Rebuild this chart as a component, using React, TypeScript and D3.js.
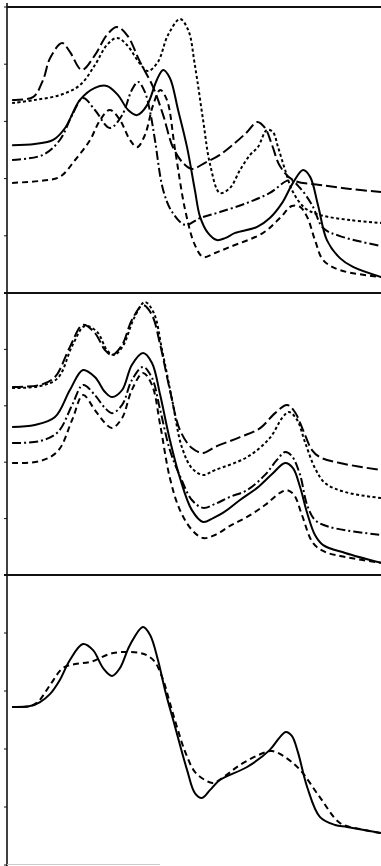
import React from 'react';
import * as d3 from 'd3';

const W = 381;
const H = 866;

// x: relative wavelength units (0..100); y: relative absorbance (0..100) within each panel
// ---------- Panel 1 ----------
const p1LongDash: [number, number][] = [
  [1.1, 67.5], [6.7, 68.5], [9.4, 74.5], [11.3, 82.2], [14.5, 87.4], [16.6, 84.3], [19.8, 78.0],
  [23.3, 83.2], [26.5, 90.2], [29.2, 93.0], [31.9, 90.2], [35.4, 80.8], [38.9, 72.0], [41.6, 62.2],
  [44.2, 51.0], [46.9, 45.5], [49.3, 43.4], [52.8, 45.5], [56.8, 48.3], [60.9, 52.5], [64.1, 56.3],
  [66.8, 59.8], [68.9, 57.7], [70.8, 51.7], [72.9, 44.4], [76.4, 39.5], [83.6, 37.8], [91.7, 36.4],
  [100, 35.3],
];
const p1Dotted: [number, number][] = [
  [1.1, 66.4], [7.2, 67.5], [13.9, 69.2], [19.3, 72.7], [23.3, 79.7], [26.5, 86.7], [29.2, 89.2],
  [31.9, 86.7], [35.4, 80.1], [37.5, 77.6], [40.2, 80.8], [42.9, 90.2], [46.1, 95.8], [48.3, 92.0],
  [50.1, 79.7], [52.3, 60.5], [54.2, 44.8], [56.8, 35.0], [59.5, 36.7], [62.2, 43.0], [64.9, 48.3],
  [67.0, 51.0], [69.4, 57.0], [71.0, 56.3], [72.4, 51.0], [74.3, 43.0], [76.4, 35.3], [79.6, 29.7],
  [83.6, 27.3], [91.7, 25.5], [100, 24.5],
];
const p1Solid: [number, number][] = [
  [1.1, 51.7], [7.2, 52.1], [12.1, 53.5], [15.3, 57.7], [19.3, 67.5], [23.3, 71.7], [26.5, 72.4],
  [29.5, 69.2], [32.2, 64.0], [34.6, 62.2], [37.3, 65.7], [39.9, 74.5], [41.6, 78.0], [43.4, 75.2],
  [45.6, 64.0], [48.0, 51.0], [50.1, 36.0], [51.5, 26.6], [53.6, 21.0], [56.0, 18.5], [58.2, 19.2],
  [60.9, 21.0], [66.8, 23.1], [70.2, 26.2], [73.5, 31.5], [76.4, 38.5], [79.1, 43.0], [81.0, 40.6],
  [83.1, 30.8], [85.5, 18.5], [89.0, 12.2], [92.5, 9.1], [100, 5.6],
];
const p1DashDot: [number, number][] = [
  [1.1, 46.5], [9.4, 48.3], [13.9, 53.5], [17.2, 62.2], [20.1, 68.2], [23.3, 64.0], [27.3, 57.7],
  [30.6, 62.2], [33.2, 71.0], [34.9, 73.8], [36.7, 70.3], [38.1, 63.3], [39.4, 53.5], [41.6, 36.0],
  [44.0, 28.3], [47.5, 23.8], [51.5, 26.2], [56.8, 28.3], [64.1, 31.5], [70.2, 35.0], [75.6, 39.5],
  [78.3, 36.7], [81.5, 30.8], [84.5, 22.7], [89.0, 19.9], [100, 16.4],
];
const p1Dashed: [number, number][] = [
  [1.1, 38.5], [8.6, 39.2], [13.9, 40.6], [18.0, 46.5], [22.0, 53.5], [24.7, 60.5], [27.3, 64.0],
  [30.0, 60.5], [32.7, 53.5], [34.6, 51.0], [36.7, 55.2], [38.9, 65.7], [40.8, 71.0], [42.6, 67.5],
  [44.8, 50.0], [47.5, 29.0], [50.1, 16.8], [52.3, 12.6], [55.5, 14.0], [59.5, 16.1], [68.4, 21.0],
  [72.9, 26.2], [76.1, 30.4], [78.3, 30.1], [80.2, 26.6], [82.3, 18.5], [84.5, 11.5], [89.0, 8.0],
  [100, 5.6],
];

// ---------- Panel 2 ----------
const p2LongDash: [number, number][] = [
  [1.1, 66.7], [8.6, 67.4], [12.6, 70.2], [16.6, 80.9], [20.1, 88.7], [23.3, 85.8], [26.0, 79.8],
  [27.9, 78.0], [30.6, 81.6], [33.2, 90.4], [36.2, 95.7], [38.6, 92.2], [40.8, 81.6], [43.4, 65.6],
  [46.1, 51.4], [49.3, 45.0], [52.3, 43.3], [55.5, 45.4], [62.2, 48.9], [67.6, 52.1], [71.6, 57.4],
  [74.8, 60.3], [76.9, 57.8], [79.1, 51.4], [81.5, 44.3], [83.6, 41.8], [89.0, 39.7], [100, 37.2],
];
const p2Dotted: [number, number][] = [
  [1.1, 66.3], [8.6, 67.0], [13.4, 69.9], [17.2, 81.2], [20.6, 88.3], [23.9, 86.2], [26.5, 79.8],
  [28.4, 78.0], [30.8, 81.2], [33.8, 91.1], [36.7, 96.8], [39.1, 92.9], [41.3, 79.8], [44.0, 62.1],
  [46.6, 45.4], [49.3, 37.9], [52.3, 35.5], [55.5, 37.2], [64.1, 41.8], [70.2, 48.6], [73.5, 55.7],
  [75.3, 57.8], [77.5, 55.0], [79.6, 47.2], [82.3, 37.9], [85.0, 32.6], [90.4, 29.4], [100, 27.3],
];
const p2Solid: [number, number][] = [
  [1.1, 52.5], [7.2, 53.2], [12.6, 56.0], [16.6, 65.6], [20.1, 72.7], [23.3, 70.2], [26.0, 64.9],
  [27.9, 63.1], [30.6, 65.6], [33.2, 74.5], [36.2, 78.7], [38.6, 75.2], [40.8, 63.8], [43.4, 47.9],
  [46.1, 34.4], [49.3, 23.0], [52.3, 18.8], [55.0, 20.2], [57.6, 22.0], [62.2, 26.6], [66.8, 30.9],
  [70.8, 35.8], [74.3, 39.7], [76.4, 37.9], [78.3, 31.2], [80.2, 22.0], [82.3, 14.2], [84.5, 10.6],
  [90.4, 7.8], [100, 4.3],
];
const p2DashDot: [number, number][] = [
  [1.1, 46.8], [8.6, 47.5], [13.4, 50.7], [17.2, 60.3], [20.1, 67.4], [23.3, 63.8], [26.0, 59.2],
  [27.9, 57.4], [30.6, 60.3], [33.2, 69.1], [36.2, 73.8], [38.6, 69.9], [40.8, 58.5], [43.4, 44.3],
  [46.1, 35.1], [49.3, 26.6], [52.3, 23.8], [55.5, 25.2], [59.5, 27.7], [64.1, 30.1], [68.9, 35.5],
  [72.1, 40.8], [74.3, 43.6], [76.1, 42.2], [78.3, 35.5], [80.2, 24.8], [82.3, 19.5], [86.3, 17.0],
  [100, 14.2],
];
const p2Dashed: [number, number][] = [
  [1.1, 39.7], [8.6, 40.4], [13.4, 44.0], [17.2, 55.0], [20.1, 63.8], [23.3, 58.5], [26.0, 53.9],
  [27.9, 52.1], [30.6, 55.7], [33.2, 65.6], [36.2, 71.6], [38.6, 67.4], [40.8, 53.2], [43.4, 34.4],
  [46.1, 23.0], [49.3, 16.0], [52.3, 13.1], [55.5, 14.2], [59.5, 17.4], [64.1, 20.6], [68.9, 24.8],
  [72.9, 29.1], [74.8, 30.1], [76.7, 28.4], [78.8, 21.3], [81.8, 11.3], [85.0, 8.2], [90.4, 6.4],
  [100, 4.3],
];

// ---------- Panel 3 ----------
const p3Solid: [number, number][] = [
  [1.1, 54.5], [5.9, 54.8], [8.6, 56.2], [11.3, 59.0], [13.9, 63.8], [16.6, 70.7], [20.1, 76.2],
  [22.8, 74.1], [25.5, 67.9], [27.9, 65.2], [30.0, 67.9], [32.7, 75.9], [36.2, 82.1], [38.1, 79.3],
  [40.2, 70.7], [42.1, 60.3], [44.8, 47.6], [48.0, 32.8], [50.1, 24.8], [52.0, 23.1], [54.2, 25.9],
  [56.8, 29.3], [64.1, 33.8], [70.2, 39.7], [72.9, 44.1], [74.5, 45.9], [76.1, 44.5], [77.7, 39.0],
  [80.2, 26.9], [83.6, 16.6], [87.7, 13.8], [90.9, 13.1], [100, 11.0],
];
const p3Dashed: [number, number][] = [
  [1.1, 54.5], [5.9, 54.8], [8.0, 56.2], [11.3, 62.1], [14.7, 67.9], [18.0, 69.3], [22.0, 70.0],
  [28.2, 73.1], [35.4, 73.1], [37.5, 72.1], [39.4, 70.0], [41.6, 63.8], [43.4, 55.9], [45.3, 47.6],
  [47.5, 39.0], [50.1, 32.1], [52.8, 29.3], [55.0, 28.3], [58.2, 30.7], [62.2, 34.5], [68.4, 38.6],
  [70.8, 39.3], [74.3, 37.2], [78.3, 32.8], [83.6, 23.4], [89.0, 14.5], [94.4, 12.4], [100, 11.0],
];

const DASHES: Record<string, string> = {
  solid: '',
  longDash: '11,4',
  dotted: '3,2.5',
  dashDot: '9,3,2,3',
  dashed: '6,4',
};

const panels = [
  {
    top: 7, bottom: 293,
    series: [
      { data: p1LongDash, style: 'longDash' },
      { data: p1Dotted, style: 'dotted' },
      { data: p1Solid, style: 'solid' },
      { data: p1DashDot, style: 'dashDot' },
      { data: p1Dashed, style: 'dashed' },
    ],
  },
  {
    top: 293, bottom: 575,
    series: [
      { data: p2LongDash, style: 'longDash' },
      { data: p2Dotted, style: 'dotted' },
      { data: p2Solid, style: 'solid' },
      { data: p2DashDot, style: 'dashDot' },
      { data: p2Dashed, style: 'dashed' },
    ],
  },
  {
    top: 575, bottom: 865,
    series: [
      { data: p3Solid, style: 'solid' },
      { data: p3Dashed, style: 'dashed' },
    ],
  },
];

const AXIS_X = 7;

export default function App() {
  const x = d3.scaleLinear().domain([0, 100]).range([8, W]);
  return (
    <svg
      width={W}
      height={H}
      style={{ position: 'absolute', left: 0, top: 0, background: '#fff' }}
    >
      <rect x={0} y={0} width={W} height={H} fill="#fff" />
      {/* frame */}
      <line x1={AXIS_X} y1={3} x2={AXIS_X} y2={H} stroke="#111" strokeWidth={1.6} />
      <line x1={AXIS_X} y1={7} x2={W} y2={7} stroke="#111" strokeWidth={2} />
      <line x1={4} y1={293} x2={W} y2={293} stroke="#111" strokeWidth={2} />
      <line x1={4} y1={575} x2={W} y2={575} stroke="#111" strokeWidth={2} />
      <line x1={AXIS_X} y1={864.5} x2={160} y2={864.5} stroke="#ccc" strokeWidth={1.2} />
      {panels.map((p, pi) => {
        const y = d3.scaleLinear().domain([0, 100]).range([p.bottom, p.top]);
        const line = d3
          .line<[number, number]>()
          .x((d) => x(d[0]))
          .y((d) => y(d[1]))
          .curve(d3.curveCatmullRom.alpha(0.5));
        const ticks = y.ticks(4);
        return (
          <g key={pi}>
            {ticks.map((t, ti) => (
              <line key={ti} x1={AXIS_X - 3} x2={AXIS_X} y1={y(t)} y2={y(t)} stroke="#111" strokeWidth={1} />
            ))}
            {p.series.map((s, si) => (
              <path
                key={si}
                d={line(s.data) || ''}
                fill="none"
                stroke="#000"
                strokeWidth={2}
                strokeDasharray={DASHES[s.style]}
                strokeLinecap="butt"
                strokeLinejoin="round"
              />
            ))}
          </g>
        );
      })}
    </svg>
  );
}
